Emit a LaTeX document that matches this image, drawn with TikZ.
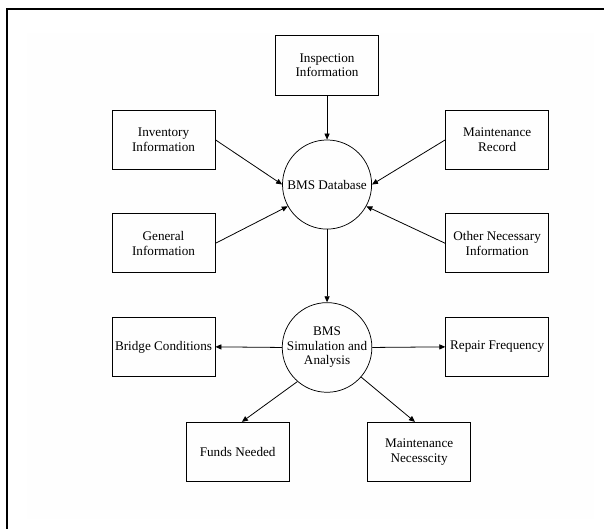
\documentclass[tikz,border=0pt]{standalone}
\usepackage{fontspec}
\setmainfont{Liberation Serif}
\usetikzlibrary{arrows.meta}

\begin{document}
\begin{tikzpicture}[
  font=\fontsize{12.5}{13.8}\selectfont,
  box/.style={draw,line width=0.8pt,minimum width=3.43cm,minimum height=1.97cm,align=center,inner sep=1pt},
  proc/.style={draw,circle,line width=0.7pt,minimum size=2.97cm,align=center,inner sep=0pt},
  flow/.style={line width=0.75pt,-{Triangle[length=0.2cm,width=0.17cm]}}
]
\useasboundingbox (0,0) rectangle (20.13,17.63);
% page frame
\fill[black!0.5] (0.9,0.33) rectangle (19.8,16.53);
\draw[line width=2.4pt] (0.23,0) -- (0.23,17.33) -- (20.13,17.33);
% inputs
\node[box] (insp) at (10.9,15.45) {Inspection\\Information};
\node[box] (inv) at (5.45,12.97) {Inventory\\Information};
\node[box] (mrec) at (16.57,12.97) {Maintenance\\Record};
\node[box] (gen) at (5.45,9.52) {General\\Information};
\node[box] (other) at (16.57,9.52) {Other Necessary\\Information};
\node[proc] (db) at (10.9,11.48) {BMS Database};
% outputs
\node[proc] (sim) at (10.9,6.05) {BMS\\Simulation and\\Analysis};
\node[box] (bridge) at (5.45,6.07) {Bridge Conditions};
\node[box] (repair) at (16.57,6.07) {Repair Frequency};
\node[box] (funds) at (7.92,2.57) {Funds Needed};
\node[box] (mnec) at (13.97,2.57) {Maintenance\\Necesscity};
% connectors
\draw[flow] (insp.south) -- (db.north);
\draw[flow] (inv.east) -- (db.west);
\draw[flow] (mrec.west) -- (db.east);
\draw[flow] (gen.east) -- (db.209);
\draw[flow] (other.west) -- (db.331);
\draw[flow] (db.south) -- (sim.north);
\draw[flow] (sim.west) -- (bridge.east);
\draw[flow] (sim.east) -- (repair.west);
\draw[flow] (sim.229) -- ([xshift=4pt]funds.north);
\draw[flow] (sim.319) -- ([xshift=-4pt]mnec.north);
\end{tikzpicture}
\end{document}
